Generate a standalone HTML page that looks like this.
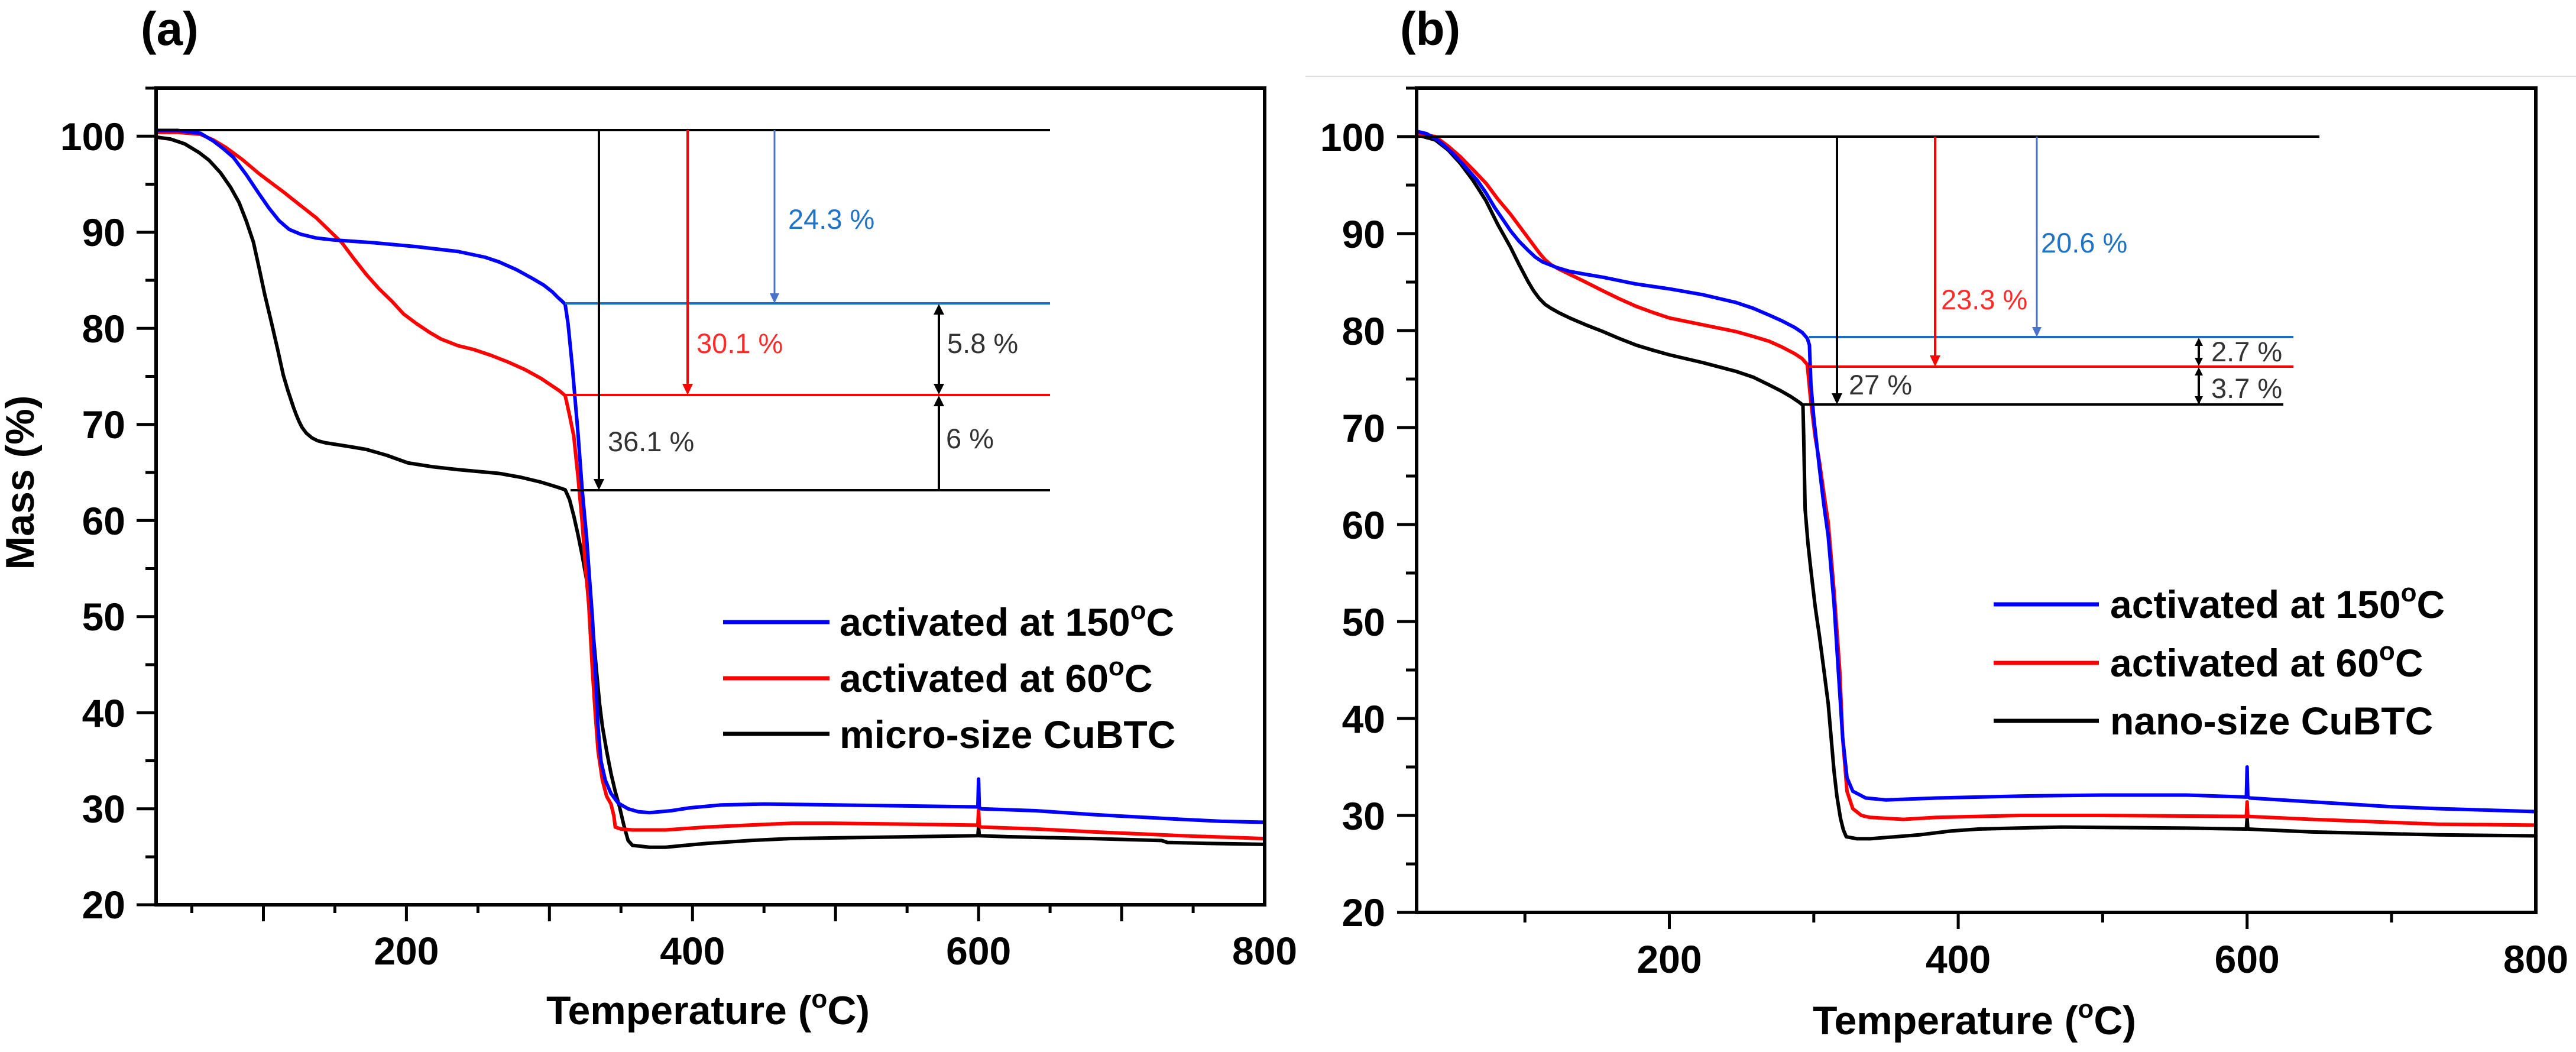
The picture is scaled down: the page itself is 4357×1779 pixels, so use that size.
<!DOCTYPE html>
<html>
<head>
<meta charset="utf-8">
<style>
  html,body{margin:0;padding:0;background:#fff;}
  svg{display:block;}
  .tl{font-family:"Liberation Sans",Arial,sans-serif;font-weight:bold;font-size:66px;fill:#000;}
  .tt{font-family:"Liberation Sans",Arial,sans-serif;font-weight:bold;font-size:68px;fill:#000;}
  .lg{font-family:"Liberation Sans",Arial,sans-serif;font-weight:bold;font-size:66px;fill:#000;}
  .an{font-family:"Liberation Sans",Arial,sans-serif;font-size:47px;}
  .cv{fill:none;stroke-width:6;stroke-linejoin:round;stroke-linecap:round;}
</style>
</head>
<body>
<svg width="4357" height="1779" viewBox="0 0 4357 1779" xmlns="http://www.w3.org/2000/svg">
<rect x="0" y="0" width="4357" height="1779" fill="#fff"/>

<!-- ================= PANEL (a) ================= -->
<text x="238" y="76" style="font-family:'Liberation Sans',Arial,sans-serif;font-weight:bold;font-size:80px;">(a)</text>

<g transform="matrix(2.4194 0 0 -16.25 203.5 1855.25)">
<polyline class="cv" vector-effect="non-scaling-stroke" stroke="#000" points="25,99.9 35,99.7 45,99.2 55,98.3 62,97.5 70,96.2 77,94.7 83,93.1 88,91.2 93,89.0 97,86.3 101,83.5 105.5,80.7 110,77.8 114,75.1 117,73.6 119,72.7 121,71.8 123,71.0 125,70.3 127,69.7 130,69.1 134,68.6 138,68.3 143,68.1 160,67.7 172,67.4 186,66.8 201,66.0 218,65.6 236,65.3 265,64.9 280,64.5 294,64.0 305,63.5 311,63.2 314,62.2 317,60.5 320,58.5 323,56.3 326,53.8 329,51.2 331,47.5 333,44.2 335,41 337,38.6 340,36 343,33.7 346,31.8 349,30.2 352,28.3 355,26.7 358,26.2 370,26.0 381,26.0 395,26.2 410,26.4 440,26.7 468,26.9 510,27.0 555,27.1 599.5,27.2 600,28.1 600.5,27.2 620,27.1 680,26.9 728,26.7 732,26.5 760,26.4 800,26.3"/>
<polyline class="cv" vector-effect="non-scaling-stroke" stroke="#ff0000" points="25,100.4 40,100.4 56,100.2 65,99.6 74,98.8 85,97.6 97,96.1 105,95.2 114,94.2 125,92.9 137,91.5 146,90.2 155,88.9 163,87.3 172,85.6 181,84.1 190,82.8 198,81.5 207,80.5 216,79.6 224,78.9 236,78.2 247,77.8 259,77.2 271,76.5 283,75.7 294,74.8 302,74.0 307,73.5 311,73.0 314,71 317,68.8 320,64.5 323,59.6 325,55.5 327.5,51.2 330,44.5 332,40 334,36 337,33 340,31.3 343,30.5 345,29.3 346,28.1 350,27.9 358,27.8 381,27.8 410,28.1 439,28.3 470,28.5 497,28.5 550,28.4 599.5,28.3 600,29.9 600.5,28.2 602,28.1 640,27.9 680,27.6 742,27.2 800,26.9"/>
<polyline class="cv" vector-effect="non-scaling-stroke" stroke="#0000ff" points="25,100.6 40,100.6 56,100.3 65,99.5 72,98.7 79,97.8 88,96.0 97,94.0 104,92.5 111,91.2 118,90.3 126,89.8 137,89.4 149,89.2 178,88.9 207,88.5 236,88.0 255,87.4 265,86.9 277,86.1 288,85.2 296,84.5 302,83.8 306,83.2 309,82.8 311,82.5 313,80.5 316,76 320,69 323,63 326,58.2 328,54 330,50 332,44.5 334,38.5 336,35 339,33 343,31.6 348,30.6 355,30.0 362,29.7 370,29.6 385,29.8 398,30.1 420,30.4 450,30.5 500,30.4 550,30.3 599.5,30.2 600,33.1 600.5,30.1 602,30.0 640,29.8 680,29.4 742,28.9 770,28.7 800,28.6"/>
</g>

<line x1="264" y1="220" x2="1776" y2="220" stroke="#000" stroke-width="4"/>
<line x1="956" y1="513" x2="1776" y2="513" stroke="#1a6fc4" stroke-width="4"/>
<line x1="953" y1="668" x2="1776" y2="668" stroke="#ff0000" stroke-width="4"/>
<line x1="965" y1="829" x2="1776" y2="829" stroke="#000" stroke-width="4"/>
<line x1="1013" y1="220" x2="1013" y2="812" stroke="#000" stroke-width="4"/>
<polygon points="1004,810 1022,810 1013,829" fill="#000"/>
<line x1="1163" y1="220" x2="1163" y2="651" stroke="#ff0000" stroke-width="4"/>
<polygon points="1154,649 1172,649 1163,668" fill="#ff0000"/>
<line x1="1310" y1="220" x2="1310" y2="498" stroke="#4a74c8" stroke-width="3"/>
<polygon points="1302,496 1318,496 1310,513" fill="#4a74c8"/>
<line x1="1588" y1="528" x2="1588" y2="653" stroke="#000" stroke-width="4"/>
<polygon points="1579,532 1597,532 1588,514" fill="#000"/>
<polygon points="1579,649 1597,649 1588,667" fill="#000"/>
<line x1="1588" y1="683" x2="1588" y2="829" stroke="#000" stroke-width="4"/>
<polygon points="1579,687 1597,687 1588,669" fill="#000"/>
<text class="an" x="1333" y="387" fill="#2273c3">24.3 %</text>
<text class="an" x="1178" y="597" fill="#ff2b2b">30.1 %</text>
<text class="an" x="1028" y="763" fill="#333">36.1 %</text>
<text class="an" x="1602" y="597" fill="#333">5.8 %</text>
<text class="an" x="1600" y="758" fill="#333">6 %</text>

<line x1="1223" y1="1052" x2="1403" y2="1052" stroke="#0000ff" stroke-width="7"/>
<line x1="1223" y1="1147" x2="1403" y2="1147" stroke="#ff0000" stroke-width="7"/>
<line x1="1223" y1="1241" x2="1403" y2="1241" stroke="#000" stroke-width="7"/>
<text class="lg" x="1420" y="1075">activated at 150<tspan font-size="44" dy="-28">o</tspan><tspan dy="28">C</tspan></text>
<text class="lg" x="1420" y="1170">activated at 60<tspan font-size="44" dy="-28">o</tspan><tspan dy="28">C</tspan></text>
<text class="lg" x="1420" y="1265">micro-size CuBTC</text>

<rect x="264" y="149" width="1875" height="1381" fill="none" stroke="#000" stroke-width="6"/>
<path stroke="#000" stroke-width="5" fill="none" d="
M231,230.25H264 M231,392.75H264 M231,555.25H264 M231,717.75H264 M231,880.25H264 M231,1042.75H264 M231,1205.25H264 M231,1367.75H264 M231,1530H264
M246,149H264 M246,311.5H264 M246,474H264 M246,636.5H264 M246,799H264 M246,961.5H264 M246,1124H264 M246,1286.5H264 M246,1449H264"/>
<path stroke="#000" stroke-width="5" fill="none" d="
M445.5,1530V1558 M687.4,1530V1558 M929.3,1530V1558 M1171.3,1530V1558 M1413.2,1530V1558 M1655.2,1530V1558 M1897.1,1530V1558
M324.5,1530V1544 M566.4,1530V1544 M808.4,1530V1544 M1050.3,1530V1544 M1292.2,1530V1544 M1534.2,1530V1544 M1776.1,1530V1544 M2018.1,1530V1544"/>
<g class="tl" text-anchor="end">
<text x="212" y="254">100</text>
<text x="212" y="416">90</text>
<text x="212" y="579">80</text>
<text x="212" y="741">70</text>
<text x="212" y="904">60</text>
<text x="212" y="1066">50</text>
<text x="212" y="1229">40</text>
<text x="212" y="1391">30</text>
<text x="212" y="1553">20</text>
</g>
<g class="tl" text-anchor="middle">
<text x="687.4" y="1631">200</text>
<text x="1171.3" y="1631">400</text>
<text x="1655.2" y="1631">600</text>
<text x="2139" y="1631">800</text>
</g>
<text class="tt" text-anchor="middle" transform="translate(57,816) rotate(-90)">Mass (%)</text>
<text class="tt" x="924" y="1732">Temperature (<tspan font-size="44" dy="-28">o</tspan><tspan dy="28">C)</tspan></text>

<!-- ================= PANEL (b) ================= -->
<line x1="2208" y1="129" x2="4357" y2="129" stroke="#dcdcdc" stroke-width="2"/>
<text x="2368" y="76" style="font-family:'Liberation Sans',Arial,sans-serif;font-weight:bold;font-size:80px;">(b)</text>

<g transform="matrix(2.443 0 0 -16.4 2334.9 1871)">
<polyline class="cv" vector-effect="non-scaling-stroke" stroke="#000" points="25,100.2 38,99.65 47,98.6 55.5,97.2 64,95.5 73,93.4 81,91.0 90,88.6 96,86.8 102,85.1 106,84.1 110,83.3 114,82.7 118,82.3 124,81.8 131,81.3 142,80.6 154,79.9 165,79.2 177,78.5 188,78.0 200,77.5 223,76.7 246,75.8 258,75.2 269,74.4 277,73.8 284,73.2 290,72.6 292.5,72.3 293,69.2 294,61.6 296,58 298,55.3 301,51.5 304,48.4 307,45 310,41.5 314,34.6 316,32 318.5,29.7 320.5,28.5 322.5,27.8 330,27.6 339,27.6 356,27.8 373,28.0 395,28.4 414,28.6 440,28.7 472,28.8 558,28.7 599.5,28.6 600,29.7 600.5,28.6 645,28.3 732,28.0 800,27.9"/>
<polyline class="cv" vector-effect="non-scaling-stroke" stroke="#ff0000" points="25,100.3 38,100.0 47,99.0 55.5,97.9 64,96.6 73,95.2 81,93.6 90,92.0 96,90.8 102,89.6 106,88.8 110,88.0 114,87.3 118,86.8 124,86.3 131,85.8 142,85.0 154,84.1 165,83.3 177,82.5 188,81.9 200,81.3 223,80.6 246,79.9 258,79.4 269,78.9 278,78.3 287,77.6 292,77.1 295.5,76.5 298,72.6 301,69 304,66.4 307,63.2 310,60.2 314,53.2 318,44.9 320,38.0 323,32.5 327,30.7 333,30.0 339,29.8 362,29.6 385,29.8 443,30.0 500,30.0 599.5,29.9 600,31.4 600.5,29.9 645,29.6 732,29.1 800,29.0"/>
<polyline class="cv" vector-effect="non-scaling-stroke" stroke="#0000ff" points="25,100.55 32,100.3 40,99.6 50,98.3 58,97.0 67,95.5 73,94.2 79,92.7 85,91.4 90,90.3 96,89.2 102,88.3 107,87.6 112,87.1 117,86.8 122,86.5 131,86.1 142,85.8 154,85.5 177,84.8 200,84.3 223,83.7 246,82.9 258,82.3 269,81.6 278,81.0 287,80.3 292,79.8 295.5,79.2 297,78.5 298,74.5 300,71 304,65.7 307,62 310,58.8 314,51.9 317,44.9 320,38.0 323,33.9 327,32.5 336,31.8 350,31.6 385,31.8 443,32.0 500,32.1 558,32.1 599.5,31.9 600,35.0 600.5,31.9 602,31.8 645,31.4 700,30.9 732,30.7 800,30.4"/>
</g>

<line x1="2396" y1="231" x2="3923" y2="231" stroke="#000" stroke-width="4"/>
<line x1="3060" y1="570" x2="3879" y2="570" stroke="#1a6fc4" stroke-width="4"/>
<line x1="3060" y1="620" x2="3879" y2="620" stroke="#ff0000" stroke-width="4"/>
<line x1="3049" y1="684" x2="3862" y2="684" stroke="#000" stroke-width="4"/>
<line x1="3107" y1="231" x2="3107" y2="667" stroke="#000" stroke-width="4"/>
<polygon points="3098,665 3116,665 3107,684" fill="#000"/>
<line x1="3273" y1="231" x2="3273" y2="603" stroke="#ff0000" stroke-width="4"/>
<polygon points="3264,601 3282,601 3273,620" fill="#ff0000"/>
<line x1="3445" y1="231" x2="3445" y2="555" stroke="#4a74c8" stroke-width="3"/>
<polygon points="3437,553 3453,553 3445,570" fill="#4a74c8"/>
<line x1="3719" y1="583" x2="3719" y2="607" stroke="#000" stroke-width="4"/>
<polygon points="3712,585 3726,585 3719,571" fill="#000"/>
<polygon points="3712,605 3726,605 3719,619" fill="#000"/>
<line x1="3719" y1="634" x2="3719" y2="684" stroke="#000" stroke-width="4"/>
<polygon points="3712,635 3726,635 3719,621" fill="#000"/>
<polygon points="3712,670 3726,670 3719,684" fill="#000"/>
<text class="an" x="3452" y="427" fill="#2273c3">20.6 %</text>
<text class="an" x="3283" y="523" fill="#ff2b2b">23.3 %</text>
<text class="an" x="3127" y="667" fill="#333">27 %</text>
<text class="an" x="3740" y="611" fill="#333">2.7 %</text>
<text class="an" x="3740" y="673" fill="#333">3.7 %</text>

<line x1="3372" y1="1022" x2="3550" y2="1022" stroke="#0000ff" stroke-width="7"/>
<line x1="3372" y1="1121" x2="3550" y2="1121" stroke="#ff0000" stroke-width="7"/>
<line x1="3372" y1="1219" x2="3550" y2="1219" stroke="#000" stroke-width="7"/>
<text class="lg" x="3569" y="1045">activated at 150<tspan font-size="44" dy="-28">o</tspan><tspan dy="28">C</tspan></text>
<text class="lg" x="3569" y="1144">activated at 60<tspan font-size="44" dy="-28">o</tspan><tspan dy="28">C</tspan></text>
<text class="lg" x="3569" y="1242">nano-size CuBTC</text>

<rect x="2396" y="149" width="1893" height="1394" fill="none" stroke="#000" stroke-width="6"/>
<path stroke="#000" stroke-width="5" fill="none" d="
M2363,231H2396 M2363,395H2396 M2363,559H2396 M2363,723H2396 M2363,887H2396 M2363,1051H2396 M2363,1215H2396 M2363,1379H2396 M2363,1543H2396
M2378,149H2396 M2378,313H2396 M2378,477H2396 M2378,641H2396 M2378,805H2396 M2378,969H2396 M2378,1133H2396 M2378,1297H2396 M2378,1461H2396"/>
<path stroke="#000" stroke-width="5" fill="none" d="
M2823.5,1543V1571 M3312.1,1543V1571 M3800.7,1543V1571
M2579.2,1543V1560 M3067.8,1543V1560 M3556.4,1543V1560 M4045,1543V1560"/>
<g class="tl" text-anchor="end">
<text x="2343" y="255">100</text>
<text x="2343" y="419">90</text>
<text x="2343" y="583">80</text>
<text x="2343" y="747">70</text>
<text x="2343" y="911">60</text>
<text x="2343" y="1075">50</text>
<text x="2343" y="1239">40</text>
<text x="2343" y="1403">30</text>
<text x="2343" y="1566">20</text>
</g>
<g class="tl" text-anchor="middle">
<text x="2823.5" y="1645">200</text>
<text x="3312.1" y="1645">400</text>
<text x="3800.7" y="1645">600</text>
<text x="4289" y="1645">800</text>
</g>
<text class="tt" x="3066" y="1749">Temperature (<tspan font-size="44" dy="-28">o</tspan><tspan dy="28">C)</tspan></text>
</svg>
</body>
</html>
